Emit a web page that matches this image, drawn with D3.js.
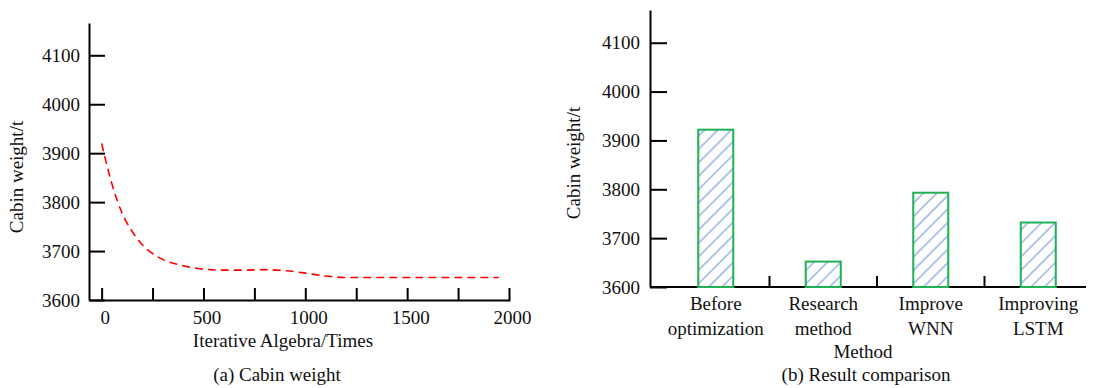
<!DOCTYPE html>
<html>
<head>
<meta charset="utf-8">
<script src="https://cdn.jsdelivr.net/npm/d3@7"></script>
<style>
  body { margin: 0; background: #fff; }
  svg text { font-family: "Liberation Serif", "Times New Roman", serif; font-size: 19px; fill: #111; }
</style>
</head>
<body>
<svg width="1093" height="388"></svg>
<script>
// (a) iteration curve
var iterX = [0, 50, 100, 150, 200, 250, 300, 400, 500, 600, 700, 800, 900, 1000, 1100, 1200, 1500, 1950]
var iterWeight = [3920, 3838, 3778, 3740, 3713, 3695, 3683, 3670, 3663, 3661, 3661, 3662, 3660, 3655, 3649, 3646, 3646, 3646]

// (b) method comparison
var methods = [['Before', 'optimization'], ['Research', 'method'], ['Improve', 'WNN'], ['Improving', 'LSTM']]
var methodWeight = [3922, 3652, 3793, 3732]

var yTicks = [3600, 3700, 3800, 3900, 4000, 4100]
var xTicks = [0, 250, 500, 750, 1000, 1250, 1500, 1750, 2000]

var svg = d3.select('svg')

var defs = svg.append('defs')
var pat = defs.append('pattern')
  .attr('id', 'hatch')
  .attr('patternUnits', 'userSpaceOnUse')
  .attr('width', 9.5).attr('height', 9.5)
  .attr('patternTransform', 'rotate(45)')
pat.append('rect').attr('width', 9.5).attr('height', 9.5).attr('fill', '#fff')
pat.append('line')
  .attr('x1', 1).attr('y1', 0).attr('x2', 1).attr('y2', 9.5)
  .attr('stroke', '#9db8e4').attr('stroke-width', 1.6)

function styleAxis (g) {
  g.attr('font-family', null).attr('font-size', null)
  g.select('.domain').attr('stroke', '#000').attr('stroke-width', 2)
  g.selectAll('.tick line').attr('stroke', '#000').attr('stroke-width', 2)
  g.selectAll('.tick text').attr('fill', '#111')
}

/* ---------- left chart ---------- */
var xL = d3.scaleLinear().domain([-62, 2005]).range([89, 510])
var yL = d3.scaleLinear().domain([3600, 4166]).range([300, 23])

svg.append('g')
  .attr('transform', 'translate(89,0)')
  .call(d3.axisLeft(yL).tickValues(yTicks).tickFormat(d3.format('d')).tickSizeInner(-16).tickSizeOuter(0).tickPadding(9))
  .call(styleAxis)

svg.append('g')
  .attr('transform', 'translate(0,300)')
  .call(d3.axisBottom(xL).tickValues(xTicks).tickSizeInner(-12).tickSizeOuter(0).tickPadding(11)
    .tickFormat((d) => d % 500 === 0 ? d : ''))
  .call(styleAxis)
  .selectAll('.tick text').attr('dx', 3)

var line = d3.line()
  .x((d, i) => xL(iterX[i]))
  .y((d) => yL(d))
  .curve(d3.curveMonotoneX)

svg.append('path')
  .datum(iterWeight)
  .attr('d', line)
  .attr('fill', 'none')
  .attr('stroke', '#ff0000')
  .attr('stroke-width', 1.6)
  .attr('stroke-dasharray', '8,5')

svg.append('text').attr('x', 283).attr('y', 347).attr('text-anchor', 'middle').text('Iterative Algebra/Times')
svg.append('text').attr('x', 277).attr('y', 381).attr('text-anchor', 'middle').text('(a) Cabin weight')
svg.append('text').attr('transform', 'translate(23,177) rotate(-90)').attr('text-anchor', 'middle').text('Cabin weight/t')

/* ---------- right chart ---------- */
var xR = d3.scaleBand().domain(d3.range(methods.length)).range([662, 1092])
var yR = d3.scaleLinear().domain([3600, 4167]).range([287, 10])

svg.append('g')
  .attr('transform', 'translate(650,0)')
  .call(d3.axisLeft(yR).tickValues(yTicks).tickFormat(d3.format('d')).tickSizeInner(-17).tickSizeOuter(0).tickPadding(10))
  .call(styleAxis)

// x axis line + separators between categories
svg.append('line')
  .attr('x1', 650).attr('x2', 1086).attr('y1', yR(3600)).attr('y2', yR(3600))
  .attr('stroke', '#000').attr('stroke-width', 2)

svg.selectAll('line.sep')
  .data(d3.range(1, methods.length))
  .enter().append('line')
    .attr('class', 'sep')
    .attr('x1', (d) => xR(d)).attr('x2', (d) => xR(d))
    .attr('y1', yR(3600)).attr('y2', yR(3600) - 11)
    .attr('stroke', '#000').attr('stroke-width', 2)

var barW = 35
svg.selectAll('rect.bar')
  .data(methodWeight)
  .enter().append('rect')
    .attr('class', 'bar')
    .attr('x', (d, i) => xR(i) + xR.bandwidth() / 2 - barW / 2)
    .attr('y', (d) => yR(d))
    .attr('width', barW)
    .attr('height', (d) => yR(3600) - yR(d))
    .attr('fill', 'url(#hatch)')
    .attr('stroke', '#1fb154')
    .attr('stroke-width', 2)

var labs = svg.selectAll('text.cat')
  .data(methods)
  .enter().append('text')
    .attr('class', 'cat')
    .attr('text-anchor', 'middle')
    .attr('transform', (d, i) => 'translate(' + (xR(i) + xR.bandwidth() / 2) + ',310)')
labs.append('tspan').attr('x', 0).attr('y', 0).text((d) => d[0])
labs.append('tspan').attr('x', 0).attr('y', 25).text((d) => d[1])

svg.append('text').attr('x', 863).attr('y', 358).attr('text-anchor', 'middle').text('Method')
svg.append('text').attr('x', 866).attr('y', 381).attr('text-anchor', 'middle').text('(b) Result comparison')
svg.append('text').attr('transform', 'translate(580,163) rotate(-90)').attr('text-anchor', 'middle').text('Cabin weight/t')
</script>
</body>
</html>
